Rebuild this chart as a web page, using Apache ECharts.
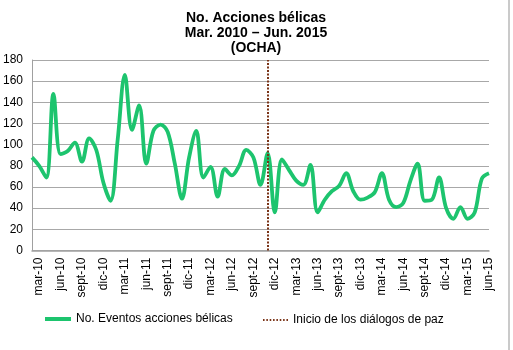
<!DOCTYPE html>
<html>
<head>
<meta charset="utf-8">
<script src="https://cdn.jsdelivr.net/npm/echarts@6/dist/echarts.min.js"></script>
<style>
html,body{margin:0;padding:0;background:#fff;}
#chart{width:513px;height:350px;}
</style>
</head>
<body>
<div id="chart"></div>
<script>
var titleLines = ['No. Acciones bélicas', 'Mar. 2010 – Jun. 2015', '(OCHA)'];
var months = ['feb-10','mar-10','abr-10','may-10','jun-10','jul-10','ago-10','sept-10','oct-10','nov-10','dic-10',
  'ene-11','feb-11','mar-11','abr-11','may-11','jun-11','jul-11','ago-11','sept-11','oct-11','nov-11','dic-11',
  'ene-12','feb-12','mar-12','abr-12','may-12','jun-12','jul-12','ago-12','sept-12','oct-12','nov-12','dic-12',
  'ene-13','feb-13','mar-13','abr-13','may-13','jun-13','jul-13','ago-13','sept-13','oct-13','nov-13','dic-13',
  'ene-14','feb-14','mar-14','abr-14','may-14','jun-14','jul-14','ago-14','sept-14','oct-14','nov-14','dic-14',
  'ene-15','feb-15','mar-15','abr-15','may-15','jun-15'];
var eventos = [88, 80, 69, 148, 91, 94, 102, 84, 106, 95, 64,
  47, 105, 166, 114, 137, 82, 113, 119, 112, 82, 49, 88,
  113, 69, 79, 51, 77, 71, 80, 95, 88, 62, 92, 36,
  86, 76, 66, 62, 81, 36, 48, 56, 61, 73, 56, 48,
  50, 55, 73, 48, 41, 45, 66, 82, 47, 48, 69, 40,
  30, 41, 30, 36, 68, 73];
var seriesNames = ['No. Eventos acciones bélicas', 'Inicio de los diálogos de paz'];
var peaceStart = 'nov-12';
var yTicks = {min: 0, max: 180, interval: 20};

var chart = echarts.init(document.getElementById('chart'), null, {renderer: 'canvas'});
var font = 'Liberation Sans, Arial, Helvetica, sans-serif';
var green = '#1dc46e';
var brown = '#7a3418';
var dots = 'path://M0,0h1.4v2h-1.4z M3,0h1.4v2h-1.4z M6,0h1.4v2h-1.4z M9,0h1.4v2h-1.4z M12,0h1.4v2h-1.4z M15,0h1.4v2h-1.4z M18,0h1.4v2h-1.4z M21,0h1.4v2h-1.4z';
chart.setOption({
  animation: false,
  backgroundColor: '#ffffff',
  textStyle: {fontFamily: font},
  title: {
    text: titleLines.join('\n'),
    left: 251, top: 6, textAlign: 'center',
    textStyle: {fontFamily: font, fontSize: 14, fontWeight: 'bold', color: '#000', lineHeight: 15}
  },
  grid: {left: 29, right: 24, top: 60, bottom: 99.5, containLabel: false},
  legend: [
    {
      data: [{name: seriesNames[0], icon: 'rect'}], left: 40, top: 308, itemWidth: 26, itemHeight: 4,
      symbolKeepAspect: false,
      itemStyle: {color: green},
      textStyle: {fontFamily: font, fontSize: 12, color: '#000'}
    },
    {
      data: [{name: seriesNames[1], icon: dots}], left: 258, top: 309, itemWidth: 25, itemHeight: 2,
      symbolKeepAspect: false,
      itemStyle: {color: brown},
      textStyle: {fontFamily: font, fontSize: 12, color: '#000'}
    }
  ],
  xAxis: {
    type: 'category', data: months, boundaryGap: false,
    axisLine: {show: true, lineStyle: {color: '#a0a0a0', width: 1.5}},
    axisTick: {show: false},
    splitLine: {show: false},
    axisLabel: {
      rotate: 90, margin: 7, fontSize: 12, color: '#000', fontFamily: font,
      interval: function (idx) { return idx % 3 === 1; }
    }
  },
  yAxis: {
    type: 'value', min: yTicks.min, max: yTicks.max, interval: yTicks.interval,
    axisLine: {show: true, lineStyle: {color: '#a0a0a0', width: 1}},
    axisTick: {show: false},
    splitLine: {show: true, lineStyle: {color: '#a8a8a8', width: 1}},
    axisLabel: {fontSize: 12, color: '#000', margin: 9, fontFamily: font}
  },
  series: [
    {
      name: seriesNames[0], type: 'line', data: eventos, smooth: 0.35,
      symbol: 'none', z: 3,
      lineStyle: {color: green, width: 3.8},
      itemStyle: {color: green}
    },
    {
      name: seriesNames[1], type: 'line', data: months.map(function () { return null; }),
      symbol: 'none',
      lineStyle: {color: brown, width: 2, type: [2, 1.5]},
      itemStyle: {color: brown},
      markLine: {
        silent: true, symbol: ['none', 'none'], label: {show: false},
        lineStyle: {color: brown, width: 2, type: [2, 1.5]},
        data: [{xAxis: peaceStart}]
      }
    }
  ],
  graphic: [
    {type: 'line', shape: {x1: 509, y1: 0, x2: 509, y2: 350}, style: {stroke: '#b8b8b8', lineWidth: 1.5}}
  ]
});
</script>
</body>
</html>
